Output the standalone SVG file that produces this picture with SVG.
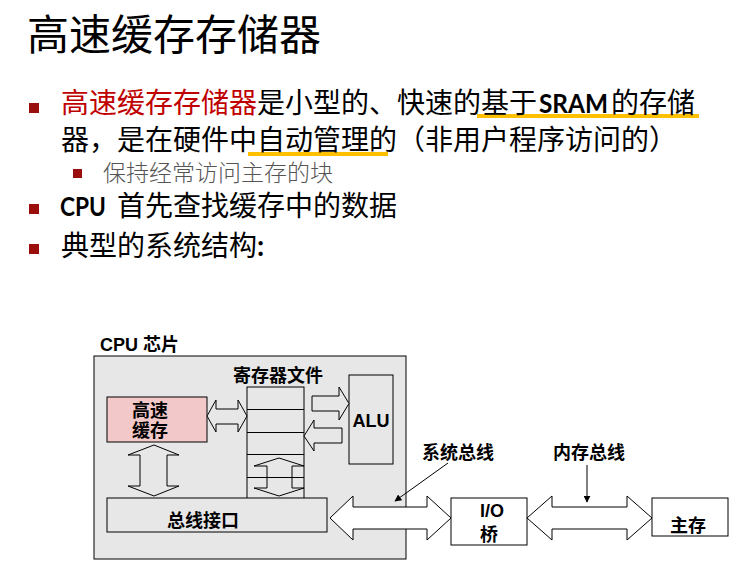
<svg xmlns="http://www.w3.org/2000/svg" width="740" height="565" viewBox="0 0 740 565">
<style>
  .cjk { font-family: "Noto Sans CJK SC", "Noto Sans", sans-serif; }
  .lat { font-family: Lato, "Liberation Sans", "Noto Sans CJK SC", sans-serif; font-weight: bold; }
  .main { font-size: 28px; fill: #000; }
  .bul { fill: #9b0e0e; }
  .box { stroke: #000; stroke-width: 1; }
  .gray { fill: #e7e7e7; }
  .lbl { font-family: "Liberation Sans", "Noto Sans CJK SC", sans-serif; font-weight: bold; font-size: 18px; fill: #000; }
  .arr { stroke: #000; stroke-width: 1; }
  .ul { fill: #ffc000; }
</style>
<defs>
  <marker id="ah" viewBox="0 0 10 10" refX="9" refY="5" markerWidth="7" markerHeight="7" orient="auto" markerUnits="userSpaceOnUse">
    <path d="M0,0 L10,5 L0,10 z" fill="#000"/>
  </marker>
</defs>
<rect x="0" y="0" width="740" height="565" fill="#fff"/>

<!-- Title and bullets -->
<g id="title">
  <text class="cjk" x="27" y="50" font-size="42" fill="#000">高速缓存存储器</text>
</g>
<g id="bullets">
  <rect class="ul" x="477" y="114" width="222" height="4"/>
  <rect class="ul" x="248" y="152" width="140" height="4"/>
  <rect class="bul" x="29" y="103" width="10" height="10"/>
  <text class="cjk main" y="113"><tspan x="61" fill="#c00000">高速缓存存储器</tspan><tspan x="257">是小型的、快速的基于</tspan></text>
  <text class="lat" x="539" y="113" font-size="27" textLength="69" lengthAdjust="spacingAndGlyphs">SRAM</text>
  <text class="cjk main" x="611" y="113">的存储</text>
  <text class="cjk main" x="61" y="150">器，是在硬件中自动管理的（非用户程序访问的）</text>
  <rect class="bul" x="73" y="169" width="9" height="9"/>
  <text class="cjk" x="103" y="181" font-size="23" font-weight="300" fill="#555">保持经常访问主存的块</text>
  <rect class="bul" x="29" y="204" width="10" height="10"/>
  <text class="lat" x="60" y="216" font-size="27" textLength="46" lengthAdjust="spacingAndGlyphs">CPU</text>
  <text class="cjk main" x="117" y="216">首先查找缓存中的数据</text>
  <rect class="bul" x="29" y="244" width="10" height="10"/>
  <text class="cjk main" x="61" y="256">典型的系统结构<tspan class="lat">:</tspan></text>
</g>

<!-- Diagram -->
<g id="cpu-chip">
  <rect class="box gray" x="94" y="356" width="312" height="203"/>
  <text class="lbl" x="100" y="351" font-size="16">CPU 芯片</text>
</g>
<g id="cache">
  <rect class="box" x="107" y="397" width="100" height="45" fill="#f2c8c8"/>
  <text class="lbl" x="132" y="417">高速</text>
  <text class="lbl" x="132" y="437">缓存</text>
</g>
<g id="register-file">
  <rect class="box gray" x="247" y="387" width="57" height="112"/>
  <line class="box" x1="247" y1="409.5" x2="304" y2="409.5"/>
  <line class="box" x1="247" y1="432.5" x2="304" y2="432.5"/>
  <line class="box" x1="247" y1="454.5" x2="304" y2="454.5"/>
  <line class="box" x1="247" y1="477.5" x2="304" y2="477.5"/>
  <text class="lbl" x="278" y="382" text-anchor="middle">寄存器文件</text>
</g>
<g id="alu">
  <rect class="box gray" x="349" y="375" width="44" height="89"/>
  <text class="lbl" x="371" y="427" text-anchor="middle" font-size="17">ALU</text>
</g>
<g id="bus-interface">
  <rect class="box gray" x="107" y="498" width="220" height="34"/>
  <text class="lbl" x="167" y="527">总线接口</text>
</g>
<g id="io-bridge">
  <rect class="box" x="451" y="498" width="76" height="47" fill="#fff"/>
  <text class="lbl" x="480" y="517">I/O</text>
  <text class="lbl" x="480" y="541">桥</text>
</g>
<g id="main-memory">
  <rect class="box" x="652" y="498" width="76" height="38" fill="#fff"/>
  <text class="lbl" x="670" y="532">主存</text>
</g>

<g id="connectors">
  <polygon class="arr" fill="#e7e7e7" points="207,416 216,400 216,409 238,409 238,400 247,416 238,432 238,424 216,424 216,432"/>
  <polygon class="arr" fill="#e7e7e7" points="312,396 339,396 339,387 349,403.5 339,420 339,411 312,411"/>
  <polygon class="arr" fill="#e7e7e7" points="304,436 314,420 314,428 342,428 342,443 314,443 314,451"/>
  <polygon class="arr" fill="#e7e7e7" points="154,445 179,455 167,455 167,486 179,486 154,496 128,486 140,486 140,455 128,455"/>
  <polygon class="arr" fill="none" points="279,458 304,466 292,466 292,488 304,488 279,496 254,488 267,488 267,466 254,466"/>
  <polygon class="arr" fill="#fff" points="330,518 353,496 353,507 427,507 427,496 451,518 427,540 427,529 353,529 353,540"/>
  <polygon class="arr" fill="#fff" points="527,518 552,496 552,507 627,507 627,496 652,518 627,540 627,529 552,529 552,540"/>
  <line x1="448" y1="463" x2="395" y2="501" stroke="#000" stroke-width="1" marker-end="url(#ah)"/>
  <line x1="587" y1="465" x2="587" y2="502" stroke="#000" stroke-width="1" marker-end="url(#ah)"/>
  <text class="lbl" x="422" y="459">系统总线</text>
  <text class="lbl" x="553" y="459">内存总线</text>
</g>
</svg>
